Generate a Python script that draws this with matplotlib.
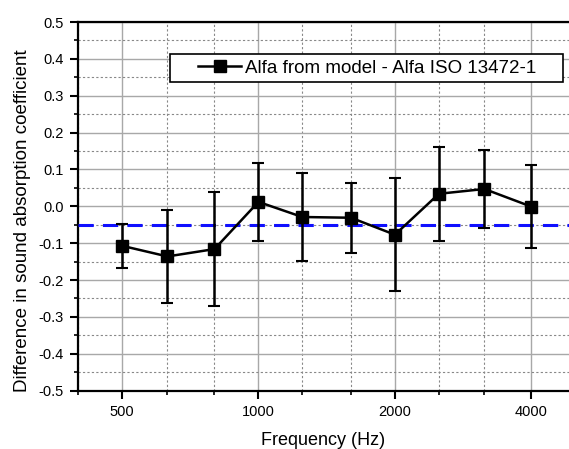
import numpy as np
import matplotlib.pyplot as plt
from matplotlib.lines import Line2D
from matplotlib.legend_handler import HandlerLine2D
from matplotlib.ticker import FixedLocator, NullFormatter

plt.rcParams['font.family'] = ['Liberation Sans', 'DejaVu Sans']

# third octave bands
freq = np.array([500, 630, 800, 1000, 1250, 1600, 2000, 2500, 3150, 4000])
# difference alfa model - alfa ISO
diff = np.array([-0.107, -0.136, -0.116, 0.012, -0.029, -0.031, -0.077, 0.034, 0.047, -0.001])
err = np.array([0.060, 0.126, 0.155, 0.105, 0.120, 0.095, 0.154, 0.127, 0.106, 0.112])
mean_line = -0.05

major_f = [500, 1000, 2000, 4000]
minor_f = [400, 630, 800, 1250, 1600, 2500, 3150]
yticks = [-0.5, -0.4, -0.3, -0.2, -0.1, 0.0, 0.1, 0.2, 0.3, 0.4, 0.5]

fig = plt.figure(figsize=(5.69, 4.49), dpi=100)
ax = fig.add_axes([0.137, 0.130, 0.863, 0.821])

ax.errorbar(freq, diff, yerr=err, color='black', lw=1.8, marker='s', ms=8.5,
            elinewidth=1.8, capsize=4, capthick=1.5, zorder=5)
ax.axhline(mean_line, color='#1010ff', lw=2.2, ls=(0, (5, 3)), zorder=4)

ax.set_xscale('log')
ax.set_xlim(400, 4840)
ax.set_ylim(-0.5, 0.5)
ax.xaxis.set_major_locator(FixedLocator(major_f))
ax.xaxis.set_minor_locator(FixedLocator(minor_f))
ax.set_xticklabels([str(f) for f in major_f])
ax.xaxis.set_minor_formatter(NullFormatter())
ax.set_yticks(yticks)
ax.set_yticks(np.arange(-0.45, 0.5, 0.1), minor=True)
ax.set_yticklabels(["{:.1f}".format(v) for v in yticks])

ax.grid(which='major', color='#a8a8a8', lw=1.0, ls='-')
ax.grid(which='minor', color='#888888', lw=0.8, ls=(0, (2, 2)))
ax.set_axisbelow(True)

ax.tick_params(which='major', direction='out', length=6, width=1.5, labelsize=10.5, pad=4)
ax.tick_params(which='minor', direction='out', length=3, width=1.2)
ax.spines['right'].set_visible(False)
for s in ['left', 'bottom', 'top']:
    ax.spines[s].set_linewidth(1.6)

ax.set_xlabel("Frequency (Hz)", fontsize=13, labelpad=10)
ax.set_ylabel("Difference in sound absorption coefficient", fontsize=13.5)
ax.yaxis.set_label_coords(-0.095, 0.46)

# trailing spaces give the right-hand padding of the legend box
handle = Line2D([], [], color='black', lw=1.8, marker='s', ms=8.5)
leg = ax.legend([handle], ["Alfa from model - Alfa ISO 13472-1    "], loc='upper right',
                bbox_to_anchor=(0.988, 0.913), borderaxespad=0,
                fontsize=13.5, handlelength=3.5, handletextpad=0.2, fancybox=False,
                framealpha=1, edgecolor='black', borderpad=0.3,
                handler_map={handle: HandlerLine2D(xpad=1.2)})
leg.get_frame().set_linewidth(1.2)

fig.savefig("out.png", dpi=100)
